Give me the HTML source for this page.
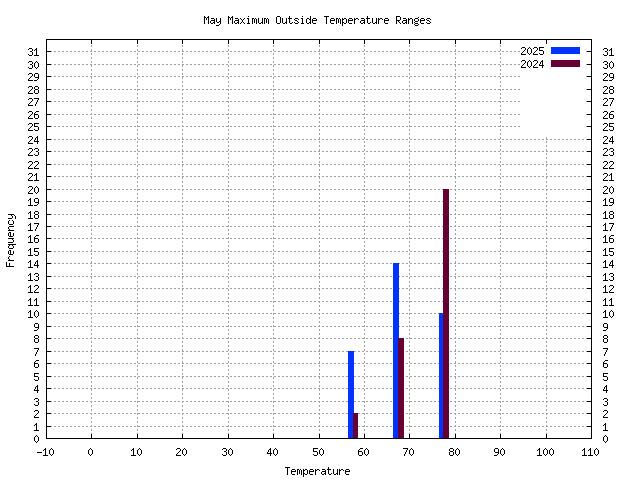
<!DOCTYPE html>
<html><head><meta charset="utf-8"><title>May Maximum Outside Temperature Ranges</title>
<style>
html,body{margin:0;padding:0;background:#fff;}
body{width:640px;height:480px;position:relative;overflow:hidden;font-family:"Liberation Sans",sans-serif;color:#000;}
div{position:absolute;}
.h{height:1px;left:48px;width:543px;background:repeating-linear-gradient(90deg,transparent 0,transparent 2px,#a0a0a0 2px,#a0a0a0 4px);}
.v{width:1px;top:40px;height:398px;background:repeating-linear-gradient(180deg,transparent 0,transparent 1px,#a0a0a0 1px,#a0a0a0 3px,transparent 3px,transparent 4px);}
.k{background:#000;}
svg{position:absolute;left:0;top:0;}
</style></head><body>
<div class="h" style="top:426px"></div>
<div class="h" style="top:413px"></div>
<div class="h" style="top:401px"></div>
<div class="h" style="top:388px"></div>
<div class="h" style="top:376px"></div>
<div class="h" style="top:363px"></div>
<div class="h" style="top:351px"></div>
<div class="h" style="top:338px"></div>
<div class="h" style="top:326px"></div>
<div class="h" style="top:313px"></div>
<div class="h" style="top:301px"></div>
<div class="h" style="top:288px"></div>
<div class="h" style="top:276px"></div>
<div class="h" style="top:263px"></div>
<div class="h" style="top:251px"></div>
<div class="h" style="top:238px"></div>
<div class="h" style="top:226px"></div>
<div class="h" style="top:214px"></div>
<div class="h" style="top:201px"></div>
<div class="h" style="top:189px"></div>
<div class="h" style="top:176px"></div>
<div class="h" style="top:164px"></div>
<div class="h" style="top:151px"></div>
<div class="h" style="top:139px"></div>
<div class="h" style="top:126px"></div>
<div class="h" style="top:114px"></div>
<div class="h" style="top:101px"></div>
<div class="h" style="top:89px"></div>
<div class="h" style="top:76px"></div>
<div class="h" style="top:64px"></div>
<div class="h" style="top:51px"></div>
<div class="v" style="left:91px"></div>
<div class="v" style="left:137px"></div>
<div class="v" style="left:182px"></div>
<div class="v" style="left:228px"></div>
<div class="v" style="left:273px"></div>
<div class="v" style="left:319px"></div>
<div class="v" style="left:364px"></div>
<div class="v" style="left:409px"></div>
<div class="v" style="left:455px"></div>
<div class="v" style="left:500px"></div>
<div class="v" style="left:546px"></div>
<div style="left:520px;top:40px;width:66px;height:97px;background:#fff"></div>
<div style="left:348px;top:351px;width:6px;height:87px;background:#0033ff"></div>
<div style="left:353px;top:413px;width:5px;height:25px;background:#660033"></div>
<div style="left:393px;top:263px;width:6px;height:175px;background:#0033ff"></div>
<div style="left:398px;top:338px;width:6px;height:100px;background:#660033"></div>
<div style="left:439px;top:313px;width:5px;height:125px;background:#0033ff"></div>
<div style="left:443px;top:189px;width:6px;height:249px;background:#660033"></div>
<div style="left:551px;top:47px;width:29px;height:7px;background:#0033ff"></div>
<div style="left:551px;top:60px;width:29px;height:7px;background:#660033"></div>
<div class="k" style="left:46px;top:39px;width:546px;height:1px"></div>
<div class="k" style="left:46px;top:438px;width:546px;height:1px"></div>
<div class="k" style="left:46px;top:39px;width:1px;height:400px"></div>
<div class="k" style="left:591px;top:39px;width:1px;height:400px"></div>
<div class="k" style="left:91px;top:434px;width:1px;height:4px"></div>
<div class="k" style="left:91px;top:40px;width:1px;height:4px"></div>
<div class="k" style="left:137px;top:434px;width:1px;height:4px"></div>
<div class="k" style="left:137px;top:40px;width:1px;height:4px"></div>
<div class="k" style="left:182px;top:434px;width:1px;height:4px"></div>
<div class="k" style="left:182px;top:40px;width:1px;height:4px"></div>
<div class="k" style="left:228px;top:434px;width:1px;height:4px"></div>
<div class="k" style="left:228px;top:40px;width:1px;height:4px"></div>
<div class="k" style="left:273px;top:434px;width:1px;height:4px"></div>
<div class="k" style="left:273px;top:40px;width:1px;height:4px"></div>
<div class="k" style="left:319px;top:434px;width:1px;height:4px"></div>
<div class="k" style="left:319px;top:40px;width:1px;height:4px"></div>
<div class="k" style="left:364px;top:434px;width:1px;height:4px"></div>
<div class="k" style="left:364px;top:40px;width:1px;height:4px"></div>
<div class="k" style="left:409px;top:434px;width:1px;height:4px"></div>
<div class="k" style="left:409px;top:40px;width:1px;height:4px"></div>
<div class="k" style="left:455px;top:434px;width:1px;height:4px"></div>
<div class="k" style="left:455px;top:40px;width:1px;height:4px"></div>
<div class="k" style="left:500px;top:434px;width:1px;height:4px"></div>
<div class="k" style="left:500px;top:40px;width:1px;height:4px"></div>
<div class="k" style="left:546px;top:434px;width:1px;height:4px"></div>
<div class="k" style="left:546px;top:40px;width:1px;height:4px"></div>
<div class="k" style="left:47px;top:426px;width:4px;height:1px"></div>
<div class="k" style="left:587px;top:426px;width:4px;height:1px"></div>
<div class="k" style="left:47px;top:413px;width:4px;height:1px"></div>
<div class="k" style="left:587px;top:413px;width:4px;height:1px"></div>
<div class="k" style="left:47px;top:401px;width:4px;height:1px"></div>
<div class="k" style="left:587px;top:401px;width:4px;height:1px"></div>
<div class="k" style="left:47px;top:388px;width:4px;height:1px"></div>
<div class="k" style="left:587px;top:388px;width:4px;height:1px"></div>
<div class="k" style="left:47px;top:376px;width:4px;height:1px"></div>
<div class="k" style="left:587px;top:376px;width:4px;height:1px"></div>
<div class="k" style="left:47px;top:363px;width:4px;height:1px"></div>
<div class="k" style="left:587px;top:363px;width:4px;height:1px"></div>
<div class="k" style="left:47px;top:351px;width:4px;height:1px"></div>
<div class="k" style="left:587px;top:351px;width:4px;height:1px"></div>
<div class="k" style="left:47px;top:338px;width:4px;height:1px"></div>
<div class="k" style="left:587px;top:338px;width:4px;height:1px"></div>
<div class="k" style="left:47px;top:326px;width:4px;height:1px"></div>
<div class="k" style="left:587px;top:326px;width:4px;height:1px"></div>
<div class="k" style="left:47px;top:313px;width:4px;height:1px"></div>
<div class="k" style="left:587px;top:313px;width:4px;height:1px"></div>
<div class="k" style="left:47px;top:301px;width:4px;height:1px"></div>
<div class="k" style="left:587px;top:301px;width:4px;height:1px"></div>
<div class="k" style="left:47px;top:288px;width:4px;height:1px"></div>
<div class="k" style="left:587px;top:288px;width:4px;height:1px"></div>
<div class="k" style="left:47px;top:276px;width:4px;height:1px"></div>
<div class="k" style="left:587px;top:276px;width:4px;height:1px"></div>
<div class="k" style="left:47px;top:263px;width:4px;height:1px"></div>
<div class="k" style="left:587px;top:263px;width:4px;height:1px"></div>
<div class="k" style="left:47px;top:251px;width:4px;height:1px"></div>
<div class="k" style="left:587px;top:251px;width:4px;height:1px"></div>
<div class="k" style="left:47px;top:238px;width:4px;height:1px"></div>
<div class="k" style="left:587px;top:238px;width:4px;height:1px"></div>
<div class="k" style="left:47px;top:226px;width:4px;height:1px"></div>
<div class="k" style="left:587px;top:226px;width:4px;height:1px"></div>
<div class="k" style="left:47px;top:214px;width:4px;height:1px"></div>
<div class="k" style="left:587px;top:214px;width:4px;height:1px"></div>
<div class="k" style="left:47px;top:201px;width:4px;height:1px"></div>
<div class="k" style="left:587px;top:201px;width:4px;height:1px"></div>
<div class="k" style="left:47px;top:189px;width:4px;height:1px"></div>
<div class="k" style="left:587px;top:189px;width:4px;height:1px"></div>
<div class="k" style="left:47px;top:176px;width:4px;height:1px"></div>
<div class="k" style="left:587px;top:176px;width:4px;height:1px"></div>
<div class="k" style="left:47px;top:164px;width:4px;height:1px"></div>
<div class="k" style="left:587px;top:164px;width:4px;height:1px"></div>
<div class="k" style="left:47px;top:151px;width:4px;height:1px"></div>
<div class="k" style="left:587px;top:151px;width:4px;height:1px"></div>
<div class="k" style="left:47px;top:139px;width:4px;height:1px"></div>
<div class="k" style="left:587px;top:139px;width:4px;height:1px"></div>
<div class="k" style="left:47px;top:126px;width:4px;height:1px"></div>
<div class="k" style="left:587px;top:126px;width:4px;height:1px"></div>
<div class="k" style="left:47px;top:114px;width:4px;height:1px"></div>
<div class="k" style="left:587px;top:114px;width:4px;height:1px"></div>
<div class="k" style="left:47px;top:101px;width:4px;height:1px"></div>
<div class="k" style="left:587px;top:101px;width:4px;height:1px"></div>
<div class="k" style="left:47px;top:89px;width:4px;height:1px"></div>
<div class="k" style="left:587px;top:89px;width:4px;height:1px"></div>
<div class="k" style="left:47px;top:76px;width:4px;height:1px"></div>
<div class="k" style="left:587px;top:76px;width:4px;height:1px"></div>
<div class="k" style="left:47px;top:64px;width:4px;height:1px"></div>
<div class="k" style="left:587px;top:64px;width:4px;height:1px"></div>
<div class="k" style="left:47px;top:51px;width:4px;height:1px"></div>
<div class="k" style="left:587px;top:51px;width:4px;height:1px"></div>
<svg width="640" height="480" viewBox="0 0 640 480" shape-rendering="crispEdges" fill="#000">
<defs><path id="mM" d="M0 1h1v1h-1zM4 1h1v1h-1zM0 2h2v1h-2zM3 2h2v1h-2zM0 3h1v1h-1zM2 3h1v1h-1zM4 3h1v1h-1zM0 4h1v1h-1zM2 4h1v1h-1zM4 4h1v1h-1zM0 5h1v1h-1zM4 5h1v1h-1zM0 6h1v1h-1zM4 6h1v1h-1zM0 7h1v1h-1zM4 7h1v1h-1zM0 8h1v1h-1zM4 8h1v1h-1z"/><path id="ma" d="M1 3h3v1h-3zM4 4h1v1h-1zM1 5h4v1h-4zM0 6h1v1h-1zM4 6h1v1h-1zM0 7h1v1h-1zM3 7h2v1h-2zM1 8h2v1h-2zM4 8h1v1h-1z"/><path id="my" d="M0 3h1v1h-1zM4 3h1v1h-1zM0 4h1v1h-1zM4 4h1v1h-1zM0 5h1v1h-1zM4 5h1v1h-1zM0 6h1v1h-1zM3 6h2v1h-2zM1 7h2v1h-2zM4 7h1v1h-1zM4 8h1v1h-1zM3 9h1v1h-1zM0 10h3v1h-3z"/><path id="mx" d="M0 3h1v1h-1zM4 3h1v1h-1zM1 4h1v1h-1zM3 4h1v1h-1zM2 5h1v1h-1zM2 6h1v1h-1zM1 7h1v1h-1zM3 7h1v1h-1zM0 8h1v1h-1zM4 8h1v1h-1z"/><path id="mi" d="M2 1h1v1h-1zM1 3h2v1h-2zM2 4h1v1h-1zM2 5h1v1h-1zM2 6h1v1h-1zM2 7h1v1h-1zM1 8h3v1h-3z"/><path id="mm" d="M0 3h2v1h-2zM3 3h1v1h-1zM0 4h1v1h-1zM2 4h1v1h-1zM4 4h1v1h-1zM0 5h1v1h-1zM2 5h1v1h-1zM4 5h1v1h-1zM0 6h1v1h-1zM2 6h1v1h-1zM4 6h1v1h-1zM0 7h1v1h-1zM2 7h1v1h-1zM4 7h1v1h-1zM0 8h1v1h-1zM4 8h1v1h-1z"/><path id="mu" d="M0 3h1v1h-1zM4 3h1v1h-1zM0 4h1v1h-1zM4 4h1v1h-1zM0 5h1v1h-1zM4 5h1v1h-1zM0 6h1v1h-1zM4 6h1v1h-1zM0 7h1v1h-1zM3 7h2v1h-2zM1 8h2v1h-2zM4 8h1v1h-1z"/><path id="mO" d="M1 1h3v1h-3zM0 2h1v1h-1zM4 2h1v1h-1zM0 3h1v1h-1zM4 3h1v1h-1zM0 4h1v1h-1zM4 4h1v1h-1zM0 5h1v1h-1zM4 5h1v1h-1zM0 6h1v1h-1zM4 6h1v1h-1zM0 7h1v1h-1zM4 7h1v1h-1zM1 8h3v1h-3z"/><path id="mt" d="M1 1h1v1h-1zM1 2h1v1h-1zM0 3h4v1h-4zM1 4h1v1h-1zM1 5h1v1h-1zM1 6h1v1h-1zM1 7h1v1h-1zM4 7h1v1h-1zM2 8h2v1h-2z"/><path id="ms" d="M1 3h3v1h-3zM0 4h1v1h-1zM4 4h1v1h-1zM1 5h2v1h-2zM3 6h1v1h-1zM0 7h1v1h-1zM4 7h1v1h-1zM1 8h3v1h-3z"/><path id="md" d="M4 1h1v1h-1zM4 2h1v1h-1zM1 3h2v1h-2zM4 3h1v1h-1zM0 4h1v1h-1zM3 4h2v1h-2zM0 5h1v1h-1zM4 5h1v1h-1zM0 6h1v1h-1zM4 6h1v1h-1zM0 7h1v1h-1zM3 7h2v1h-2zM1 8h2v1h-2zM4 8h1v1h-1z"/><path id="me" d="M1 3h3v1h-3zM0 4h1v1h-1zM4 4h1v1h-1zM0 5h5v1h-5zM0 6h1v1h-1zM0 7h1v1h-1zM1 8h3v1h-3z"/><path id="mT" d="M0 1h5v1h-5zM2 2h1v1h-1zM2 3h1v1h-1zM2 4h1v1h-1zM2 5h1v1h-1zM2 6h1v1h-1zM2 7h1v1h-1zM2 8h1v1h-1z"/><path id="mp" d="M0 3h1v1h-1zM2 3h2v1h-2zM0 4h2v1h-2zM4 4h1v1h-1zM0 5h1v1h-1zM4 5h1v1h-1zM0 6h1v1h-1zM4 6h1v1h-1zM0 7h2v1h-2zM4 7h1v1h-1zM0 8h1v1h-1zM2 8h2v1h-2zM0 9h1v1h-1zM0 10h1v1h-1z"/><path id="mr" d="M0 3h1v1h-1zM2 3h2v1h-2zM0 4h2v1h-2zM4 4h1v1h-1zM0 5h1v1h-1zM0 6h1v1h-1zM0 7h1v1h-1zM0 8h1v1h-1z"/><path id="mR" d="M0 1h4v1h-4zM0 2h1v1h-1zM4 2h1v1h-1zM0 3h1v1h-1zM4 3h1v1h-1zM0 4h1v1h-1zM4 4h1v1h-1zM0 5h4v1h-4zM0 6h1v1h-1zM2 6h1v1h-1zM0 7h1v1h-1zM3 7h1v1h-1zM0 8h1v1h-1zM4 8h1v1h-1z"/><path id="mn" d="M0 3h1v1h-1zM2 3h2v1h-2zM0 4h2v1h-2zM4 4h1v1h-1zM0 5h1v1h-1zM4 5h1v1h-1zM0 6h1v1h-1zM4 6h1v1h-1zM0 7h1v1h-1zM4 7h1v1h-1zM0 8h1v1h-1zM4 8h1v1h-1z"/><path id="mg" d="M4 2h1v1h-1zM1 3h3v1h-3zM0 4h1v1h-1zM4 4h1v1h-1zM0 5h1v1h-1zM4 5h1v1h-1zM1 6h3v1h-3zM0 7h1v1h-1zM1 8h3v1h-3zM0 9h1v1h-1zM4 9h1v1h-1zM1 10h3v1h-3z"/><path id="mF" d="M0 1h5v1h-5zM0 2h1v1h-1zM0 3h1v1h-1zM0 4h4v1h-4zM0 5h1v1h-1zM0 6h1v1h-1zM0 7h1v1h-1zM0 8h1v1h-1z"/><path id="mq" d="M1 3h2v1h-2zM4 3h1v1h-1zM0 4h1v1h-1zM3 4h2v1h-2zM0 5h1v1h-1zM4 5h1v1h-1zM0 6h1v1h-1zM4 6h1v1h-1zM0 7h1v1h-1zM3 7h2v1h-2zM1 8h2v1h-2zM4 8h1v1h-1zM4 9h1v1h-1zM4 10h1v1h-1z"/><path id="mc" d="M1 3h3v1h-3zM0 4h1v1h-1zM4 4h1v1h-1zM0 5h1v1h-1zM0 6h1v1h-1zM0 7h1v1h-1zM4 7h1v1h-1zM1 8h3v1h-3z"/><path id="n0" d="M2 0h1v1h-1zM1 1h1v1h-1zM3 1h1v1h-1zM0 2h1v1h-1zM4 2h1v1h-1zM0 3h1v1h-1zM4 3h1v1h-1zM0 4h1v1h-1zM4 4h1v1h-1zM0 5h1v1h-1zM4 5h1v1h-1zM1 6h1v1h-1zM3 6h1v1h-1zM2 7h1v1h-1z"/><path id="n1" d="M2 0h1v1h-1zM1 1h2v1h-2zM0 2h1v1h-1zM2 2h1v1h-1zM2 3h1v1h-1zM2 4h1v1h-1zM2 5h1v1h-1zM2 6h1v1h-1zM0 7h5v1h-5z"/><path id="n2" d="M1 0h3v1h-3zM0 1h1v1h-1zM4 1h1v1h-1zM4 2h1v1h-1zM3 3h1v1h-1zM2 4h1v1h-1zM1 5h1v1h-1zM0 6h1v1h-1zM0 7h5v1h-5z"/><path id="n3" d="M1 0h3v1h-3zM0 1h1v1h-1zM4 1h1v1h-1zM4 2h1v1h-1zM2 3h2v1h-2zM4 4h1v1h-1zM4 5h1v1h-1zM0 6h1v1h-1zM4 6h1v1h-1zM1 7h3v1h-3z"/><path id="n4" d="M3 0h1v1h-1zM2 1h2v1h-2zM1 2h1v1h-1zM3 2h1v1h-1zM1 3h1v1h-1zM3 3h1v1h-1zM0 4h1v1h-1zM3 4h1v1h-1zM0 5h5v1h-5zM3 6h1v1h-1zM3 7h1v1h-1z"/><path id="n5" d="M0 0h5v1h-5zM0 1h1v1h-1zM0 2h1v1h-1zM0 3h4v1h-4zM4 4h1v1h-1zM4 5h1v1h-1zM0 6h1v1h-1zM4 6h1v1h-1zM1 7h3v1h-3z"/><path id="n6" d="M2 0h3v1h-3zM1 1h1v1h-1zM0 2h1v1h-1zM0 3h4v1h-4zM0 4h1v1h-1zM4 4h1v1h-1zM0 5h1v1h-1zM4 5h1v1h-1zM0 6h1v1h-1zM4 6h1v1h-1zM1 7h3v1h-3z"/><path id="n7" d="M0 0h5v1h-5zM4 1h1v1h-1zM3 2h1v1h-1zM3 3h1v1h-1zM2 4h1v1h-1zM2 5h1v1h-1zM1 6h1v1h-1zM1 7h1v1h-1z"/><path id="n8" d="M1 0h3v1h-3zM0 1h1v1h-1zM4 1h1v1h-1zM0 2h1v1h-1zM4 2h1v1h-1zM1 3h3v1h-3zM0 4h1v1h-1zM4 4h1v1h-1zM0 5h1v1h-1zM4 5h1v1h-1zM0 6h1v1h-1zM4 6h1v1h-1zM1 7h3v1h-3z"/><path id="n9" d="M1 0h3v1h-3zM0 1h1v1h-1zM4 1h1v1h-1zM0 2h1v1h-1zM4 2h1v1h-1zM0 3h1v1h-1zM4 3h1v1h-1zM1 4h4v1h-4zM4 5h1v1h-1zM3 6h1v1h-1zM0 7h3v1h-3z"/><path id="nm" d="M0 4h5v1h-5z"/></defs>
<use href="#n2" x="521" y="47"/><use href="#n0" x="527" y="47"/><use href="#n2" x="533" y="47"/><use href="#n5" x="539" y="47"/><use href="#n2" x="521" y="60"/><use href="#n0" x="527" y="60"/><use href="#n2" x="533" y="60"/><use href="#n4" x="539" y="60"/><use href="#n0" x="34" y="435"/><use href="#n0" x="603" y="435"/><use href="#n1" x="34" y="423"/><use href="#n1" x="603" y="423"/><use href="#n2" x="34" y="410"/><use href="#n2" x="603" y="410"/><use href="#n3" x="34" y="398"/><use href="#n3" x="603" y="398"/><use href="#n4" x="34" y="385"/><use href="#n4" x="603" y="385"/><use href="#n5" x="34" y="373"/><use href="#n5" x="603" y="373"/><use href="#n6" x="34" y="360"/><use href="#n6" x="603" y="360"/><use href="#n7" x="34" y="348"/><use href="#n7" x="603" y="348"/><use href="#n8" x="34" y="335"/><use href="#n8" x="603" y="335"/><use href="#n9" x="34" y="323"/><use href="#n9" x="603" y="323"/><use href="#n1" x="28" y="310"/><use href="#n0" x="34" y="310"/><use href="#n1" x="603" y="310"/><use href="#n0" x="609" y="310"/><use href="#n1" x="28" y="298"/><use href="#n1" x="34" y="298"/><use href="#n1" x="603" y="298"/><use href="#n1" x="609" y="298"/><use href="#n1" x="28" y="285"/><use href="#n2" x="34" y="285"/><use href="#n1" x="603" y="285"/><use href="#n2" x="609" y="285"/><use href="#n1" x="28" y="273"/><use href="#n3" x="34" y="273"/><use href="#n1" x="603" y="273"/><use href="#n3" x="609" y="273"/><use href="#n1" x="28" y="260"/><use href="#n4" x="34" y="260"/><use href="#n1" x="603" y="260"/><use href="#n4" x="609" y="260"/><use href="#n1" x="28" y="248"/><use href="#n5" x="34" y="248"/><use href="#n1" x="603" y="248"/><use href="#n5" x="609" y="248"/><use href="#n1" x="28" y="235"/><use href="#n6" x="34" y="235"/><use href="#n1" x="603" y="235"/><use href="#n6" x="609" y="235"/><use href="#n1" x="28" y="223"/><use href="#n7" x="34" y="223"/><use href="#n1" x="603" y="223"/><use href="#n7" x="609" y="223"/><use href="#n1" x="28" y="211"/><use href="#n8" x="34" y="211"/><use href="#n1" x="603" y="211"/><use href="#n8" x="609" y="211"/><use href="#n1" x="28" y="198"/><use href="#n9" x="34" y="198"/><use href="#n1" x="603" y="198"/><use href="#n9" x="609" y="198"/><use href="#n2" x="28" y="186"/><use href="#n0" x="34" y="186"/><use href="#n2" x="603" y="186"/><use href="#n0" x="609" y="186"/><use href="#n2" x="28" y="173"/><use href="#n1" x="34" y="173"/><use href="#n2" x="603" y="173"/><use href="#n1" x="609" y="173"/><use href="#n2" x="28" y="161"/><use href="#n2" x="34" y="161"/><use href="#n2" x="603" y="161"/><use href="#n2" x="609" y="161"/><use href="#n2" x="28" y="148"/><use href="#n3" x="34" y="148"/><use href="#n2" x="603" y="148"/><use href="#n3" x="609" y="148"/><use href="#n2" x="28" y="136"/><use href="#n4" x="34" y="136"/><use href="#n2" x="603" y="136"/><use href="#n4" x="609" y="136"/><use href="#n2" x="28" y="123"/><use href="#n5" x="34" y="123"/><use href="#n2" x="603" y="123"/><use href="#n5" x="609" y="123"/><use href="#n2" x="28" y="111"/><use href="#n6" x="34" y="111"/><use href="#n2" x="603" y="111"/><use href="#n6" x="609" y="111"/><use href="#n2" x="28" y="98"/><use href="#n7" x="34" y="98"/><use href="#n2" x="603" y="98"/><use href="#n7" x="609" y="98"/><use href="#n2" x="28" y="86"/><use href="#n8" x="34" y="86"/><use href="#n2" x="603" y="86"/><use href="#n8" x="609" y="86"/><use href="#n2" x="28" y="73"/><use href="#n9" x="34" y="73"/><use href="#n2" x="603" y="73"/><use href="#n9" x="609" y="73"/><use href="#n3" x="28" y="61"/><use href="#n0" x="34" y="61"/><use href="#n3" x="603" y="61"/><use href="#n0" x="609" y="61"/><use href="#n3" x="28" y="48"/><use href="#n1" x="34" y="48"/><use href="#n3" x="603" y="48"/><use href="#n1" x="609" y="48"/><use href="#nm" x="37" y="448"/><use href="#n1" x="43" y="448"/><use href="#n0" x="49" y="448"/><use href="#n0" x="88" y="448"/><use href="#n1" x="131" y="448"/><use href="#n0" x="137" y="448"/><use href="#n2" x="176" y="448"/><use href="#n0" x="182" y="448"/><use href="#n3" x="222" y="448"/><use href="#n0" x="228" y="448"/><use href="#n4" x="267" y="448"/><use href="#n0" x="273" y="448"/><use href="#n5" x="313" y="448"/><use href="#n0" x="319" y="448"/><use href="#n6" x="358" y="448"/><use href="#n0" x="364" y="448"/><use href="#n7" x="403" y="448"/><use href="#n0" x="409" y="448"/><use href="#n8" x="449" y="448"/><use href="#n0" x="455" y="448"/><use href="#n9" x="494" y="448"/><use href="#n0" x="500" y="448"/><use href="#n1" x="537" y="448"/><use href="#n0" x="543" y="448"/><use href="#n0" x="549" y="448"/><use href="#n1" x="582" y="448"/><use href="#n1" x="588" y="448"/><use href="#n0" x="594" y="448"/><use href="#mM" x="204" y="15"/><use href="#ma" x="210" y="15"/><use href="#my" x="216" y="15"/><use href="#mM" x="228" y="15"/><use href="#ma" x="234" y="15"/><use href="#mx" x="240" y="15"/><use href="#mi" x="246" y="15"/><use href="#mm" x="252" y="15"/><use href="#mu" x="258" y="15"/><use href="#mm" x="264" y="15"/><use href="#mO" x="276" y="15"/><use href="#mu" x="282" y="15"/><use href="#mt" x="288" y="15"/><use href="#ms" x="294" y="15"/><use href="#mi" x="300" y="15"/><use href="#md" x="306" y="15"/><use href="#me" x="312" y="15"/><use href="#mT" x="324" y="15"/><use href="#me" x="330" y="15"/><use href="#mm" x="336" y="15"/><use href="#mp" x="342" y="15"/><use href="#me" x="348" y="15"/><use href="#mr" x="354" y="15"/><use href="#ma" x="360" y="15"/><use href="#mt" x="366" y="15"/><use href="#mu" x="372" y="15"/><use href="#mr" x="378" y="15"/><use href="#me" x="384" y="15"/><use href="#mR" x="396" y="15"/><use href="#ma" x="402" y="15"/><use href="#mn" x="408" y="15"/><use href="#mg" x="414" y="15"/><use href="#me" x="420" y="15"/><use href="#ms" x="426" y="15"/><use href="#mT" x="285" y="466"/><use href="#me" x="291" y="466"/><use href="#mm" x="297" y="466"/><use href="#mp" x="303" y="466"/><use href="#me" x="309" y="466"/><use href="#mr" x="315" y="466"/><use href="#ma" x="321" y="466"/><use href="#mt" x="327" y="466"/><use href="#mu" x="333" y="466"/><use href="#mr" x="339" y="466"/><use href="#me" x="345" y="466"/>
<g transform="translate(5,267) rotate(-90)"><use href="#mF" x="0" y="0"/><use href="#mr" x="6" y="0"/><use href="#me" x="12" y="0"/><use href="#mq" x="18" y="0"/><use href="#mu" x="24" y="0"/><use href="#me" x="30" y="0"/><use href="#mn" x="36" y="0"/><use href="#mc" x="42" y="0"/><use href="#my" x="48" y="0"/></g>
</svg>
</body></html>
